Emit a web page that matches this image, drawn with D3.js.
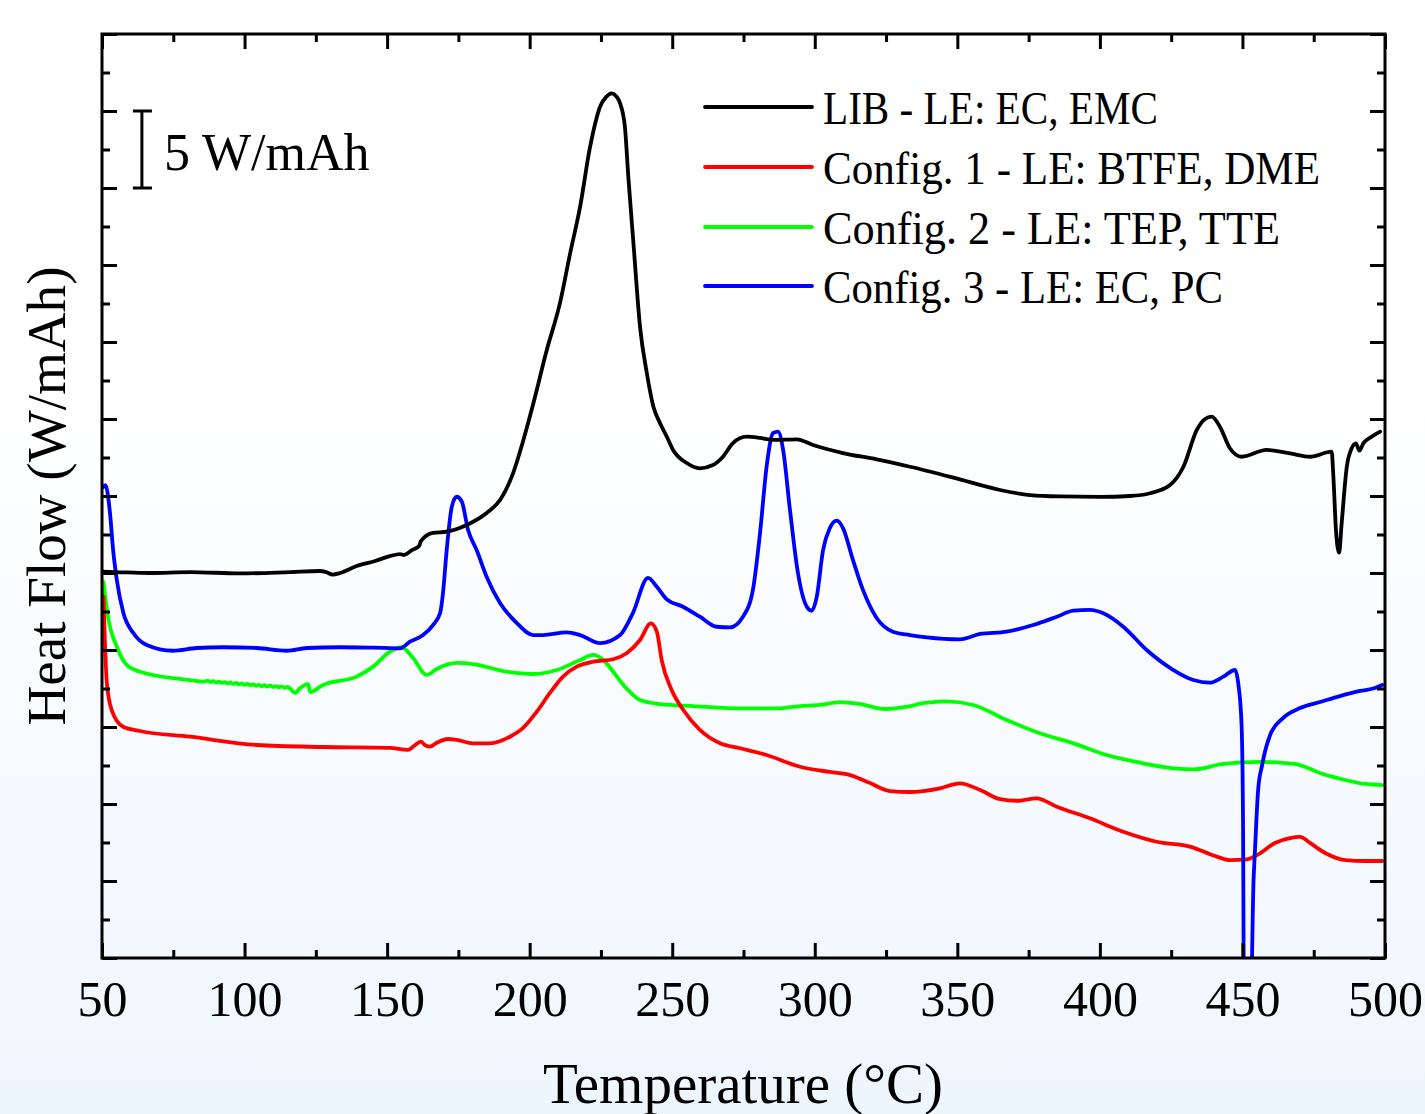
<!DOCTYPE html>
<html>
<head>
<meta charset="utf-8">
<script src="https://cdn.jsdelivr.net/npm/d3@7/dist/d3.min.js"></script>
<style>
  html, body { margin: 0; padding: 0; background: #fff; }
  svg { display: block; }
  text { font-family: "Liberation Serif", "DejaVu Serif", serif; fill: #000; }
</style>
</head>
<body>
<svg id="chart" width="1425" height="1114"></svg>
<script>
// ---------------- DATA ----------------
// Temperature (°C), Heat flow (W/mAh, arbitrary offset per curve)
const seriesNames = [
  "LIB - LE: EC, EMC",
  "Config. 1 - LE: BTFE, DME",
  "Config. 2 - LE: TEP, TTE",
  "Config. 3 - LE: EC, PC"
];

const libEcEmc = [
  [50.4,25.08],[54.6,25.06],[66.8,25.00],[80.9,25.06],[98.4,24.97],[115.9,25.06],
  [126.5,25.13],[128.6,25.06],[130.9,24.90],[133.5,25.00],[139.3,25.45],[145.8,25.78],
  [151.0,26.10],[154.5,26.23],[155.9,26.17],[158.7,26.49],[161.2,26.75],[161.9,27.08],
  [166.1,27.60],[170.9,27.68],[177.9,28.12],[184.9,28.90],[189.6,29.74],[194.2,31.49],
  [197.8,33.64],[201.3,36.02],[206.0,39.48],[210.6,42.51],[214.2,45.76],[217.7,48.79],
  [221.2,52.68],[224.7,55.28],[226.8,55.91],[228.8,56.15],[230.3,55.97],[231.7,55.50],
  [233.4,53.98],[234.6,50.73],[236.4,46.41],[238.7,40.99],[241.1,37.97],[243.4,35.80],
  [245.7,34.74],[248.1,33.85],[250.3,32.99],[255.1,32.14],[259.7,31.80],[264.3,32.01],
  [267.8,32.55],[271.3,33.44],[276.1,33.85],[280.8,33.77],[285.4,33.64],[293.7,33.68],
  [299.4,33.31],[309.9,32.79],[321.7,32.38],[333.4,31.90],[350.9,31.08],[365.0,30.39],
  [375.5,30.06],[386.0,29.97],[400.0,29.94],[410.6,30.00],[417.6,30.18],[424.6,30.71],
  [429.3,31.90],[434.0,34.29],[436.9,35.00],[439.2,35.15],[442.1,34.50],[445.6,33.10],
  [449.7,32.55],[458.5,32.99],[466.7,32.77],[473.7,32.55],[481.3,32.88],[481.9,31.25],
  [482.8,27.79],[483.9,26.32],[484.8,28.23],[486.6,31.90],[488.3,33.10],[489.8,33.42],
  [491.0,32.94],[492.4,33.42],[495.3,33.85],[498.3,34.18]
];

const config1BtfeDme = [
  [50.5,23.46],[51.7,17.86],[53.4,16.10],[57.4,15.02],[63.3,14.74],[80.9,14.37],
  [104.3,13.83],[127.5,13.70],[151.0,13.64],[157.3,13.51],[159.8,13.83],[161.8,14.05],
  [163.3,13.83],[165.0,13.72],[167.4,13.98],[171.4,14.22],[174.4,14.16],[180.1,13.94],
  [186.1,13.94],[193.1,14.37],[197.7,14.94],[202.5,15.99],[207.1,17.21],[211.7,18.27],
  [216.5,18.92],[222.3,19.24],[229.3,19.40],[234.0,19.79],[238.7,20.65],[242.5,21.73],
  [244.6,21.19],[246.3,19.35],[249.8,17.40],[253.9,16.10],[259.7,14.81],[266.8,13.94],
  [273.8,13.62],[283.1,13.18],[294.8,12.42],[305.3,12.08],[312.4,11.88],[319.4,11.36],
  [326.4,10.84],[333.4,10.78],[343.9,11.02],[350.9,11.34],[358.0,10.91],[365.0,10.31],
  [370.8,10.21],[377.8,10.37],[384.9,9.82],[396.5,9.07],[408.2,8.20],[419.9,7.55],
  [431.6,7.23],[441.0,6.58],[445.6,6.36],[451.5,6.41],[456.2,6.80],[461.4,7.47],
  [466.7,7.79],[470.2,7.86],[473.7,7.47],[479.0,6.82],[486.0,6.36],[493.0,6.30],[499.0,6.30]
];

const config2TepTte = [
  [50.5,24.43],[52.1,22.16],[55.2,20.21],[58.7,19.03],[63.3,18.59],[80.9,18.05],
  [86.0,17.95],[87.0,18.01],[88.0,17.92],[89.0,17.98],[90.0,17.89],[91.0,17.95],
  [92.0,17.86],[93.0,17.92],[94.0,17.83],[95.0,17.89],[96.0,17.80],[97.0,17.86],
  [98.0,17.77],[99.0,17.83],[100.0,17.74],[101.0,17.80],[102.0,17.71],[103.0,17.77],
  [104.0,17.68],[105.0,17.74],[106.0,17.65],[107.0,17.71],[108.0,17.63],[109.0,17.69],
  [110.0,17.60],[111.0,17.66],[112.0,17.58],[113.0,17.64],[114.0,17.55],[115.0,17.60],
  [115.9,17.51],[117.7,17.21],[119.5,17.53],[122.3,17.79],
  [123.0,17.27],[127.5,17.73],[139.3,18.27],[145.1,18.92],[151.0,19.89],[155.1,20.18],
  [159.1,19.48],[163.9,18.38],[167.4,18.77],[174.4,19.16],[180.1,19.09],[191.9,18.59],
  [201.2,18.44],[209.5,18.70],[217.7,19.35],[222.3,19.68],[225.8,19.35],[229.3,18.59],
  [233.4,17.62],[238.7,16.75],[245.7,16.49],[257.4,16.36],[274.9,16.21],[286.7,16.21],
  [294.8,16.36],[301.8,16.43],[308.8,16.62],[315.9,16.49],[324.6,16.17],[331.6,16.30],
  [338.7,16.56],[345.7,16.66],[355.6,16.43],[367.3,15.45],[379.0,14.59],[390.7,13.94],
  [402.4,13.18],[414.1,12.68],[425.8,12.32],[432.8,12.25],[443.3,12.60],[456.2,12.73],
  [464.9,12.66],[470.2,12.53],[477.2,12.01],[486.0,11.56],[493.0,11.30],[499.0,11.23]
];

const config3EcPc = [
  [50.5,30.58],[51.2,30.71],[52.8,28.90],[53.9,26.49],[55.2,24.55],[57.5,22.40],
  [61.0,21.10],[65.7,20.32],[74.9,19.95],[83.2,20.13],[92.4,20.18],[104.3,20.13],
  [114.8,19.95],[121.8,20.13],[133.5,20.18],[145.1,20.15],[154.5,20.11],[158.0,20.54],
  [162.6,20.97],[166.1,21.62],[168.6,22.40],[169.6,23.70],[170.9,26.49],[172.7,29.31],
  [174.4,29.95],[176.2,29.63],[178.4,27.79],[181.4,26.49],[184.9,24.76],[189.6,23.05],
  [195.5,21.75],[201.2,20.97],[204.7,20.97],[213.0,21.15],[217.7,20.97],[224.7,20.44],
  [231.7,20.97],[236.2,22.40],[241.5,24.68],[244.6,24.11],[248.1,23.29],[253.8,22.81],
  [259.7,22.16],[265.6,21.51],[270.3,21.47],[274.8,22.16],[278.3,23.90],[280.8,27.60],
  [283.1,31.90],[285.4,34.09],[287.1,34.18],[288.9,32.99],[291.3,29.09],[294.1,25.00],
  [297.2,22.81],[298.9,22.55],[300.7,23.46],[302.9,26.49],[305.3,27.92],[307.7,28.40],
  [309.9,27.92],[313.4,25.84],[316.9,23.90],[321.7,22.08],[327.4,21.19],[333.4,20.97],
  [339.3,20.82],[350.9,20.69],[358.0,21.04],[367.3,21.19],[376.6,21.62],[384.9,22.16],
  [390.7,22.55],[396.5,22.60],[401.2,22.38],[408.2,21.51],[416.4,20.00],[425.8,18.70],
  [432.8,18.05],[438.6,17.88],[443.3,18.27],[447.4,18.70],[448.6,17.73],[449.7,15.13],
  [450.2,8.96],[450.6,-5.00],[452.7,-5.00],[453.9,5.06],[454.4,7.01],[455.5,10.91],
  [456.9,12.53],[459.7,14.48],[464.2,15.58],[470.2,16.23],[477.2,16.62],[484.2,17.01],
  [491.2,17.34],[496.5,17.53],[499.0,17.73]
];

const xMajorTicks = [50, 100, 150, 200, 250, 300, 350, 400, 450, 500];
const xMinorTicks = [75, 125, 175, 225, 275, 325, 375, 425, 475];
const yMajorTicks = [0, 5, 10, 15, 20, 25, 30, 35, 40, 45, 50, 55, 60];
const yMinorTicks = [2.5, 7.5, 12.5, 17.5, 22.5, 27.5, 32.5, 37.5, 42.5, 47.5, 52.5, 57.5];
const scaleBarValue = [50, 55];     // 5 W/mAh scale bar (y range)
const scaleBarTemp = 64;            // where the scale bar sits (°C)
const xTitle = "Temperature (°C)";
const yTitle = "Heat Flow (W/mAh)";
const scaleLabel = "5 W/mAh";

// ---------------- STYLE / LAYOUT ----------------
const colors = ["#000000", "#ff0000", "#00ff00", "#0000ff"];
const allSeries = [libEcEmc, config1BtfeDme, config2TepTte, config3EcPc];
const W = 1425, H = 1114;
const m = { left: 102, right: 1385, top: 34, bottom: 958 };

const svg = d3.select("#chart");

// background gradient
const defs = svg.append("defs");
const grad = defs.append("linearGradient").attr("id", "bg")
  .attr("x1", 0).attr("y1", 0).attr("x2", 0).attr("y2", 1);
grad.append("stop").attr("offset", "0%").attr("stop-color", "#ffffff");
grad.append("stop").attr("offset", "35%").attr("stop-color", "#ffffff");
grad.append("stop").attr("offset", "100%").attr("stop-color", "#eef6fd");
svg.append("rect").attr("width", W).attr("height", H).attr("fill", "url(#bg)");

defs.append("clipPath").attr("id", "plotclip").append("rect")
  .attr("x", m.left).attr("y", m.top)
  .attr("width", m.right - m.left).attr("height", m.bottom - m.top);

const x = d3.scaleLinear().domain([50, 500]).range([m.left, m.right]);
const y = d3.scaleLinear().domain([0, 60]).range([m.bottom, m.top]);

// curves
const line = d3.line().x(d => x(d[0])).y(d => y(d[1])).curve(d3.curveMonotoneX);
const curves = svg.append("g").attr("clip-path", "url(#plotclip)");
// draw order: green, red, blue, black (black above)
[2, 1, 3, 0].forEach(i => {
  curves.append("path").datum(allSeries[i])
    .attr("d", line).attr("fill", "none")
    .attr("stroke", colors[i]).attr("stroke-width", 3.8)
    .attr("stroke-linejoin", "round").attr("stroke-linecap", "round");
});

// axes (ticks inward)
function styleAxis(g) {
  g.select(".domain").remove();
  g.selectAll(".tick line").attr("stroke", "#000").attr("stroke-width", 3);
}
const fmt = d3.format("d");
svg.append("g").attr("transform", `translate(0,${m.bottom})`)
  .call(d3.axisBottom(x).tickValues(xMajorTicks).tickSizeInner(-15).tickSizeOuter(0)
    .tickPadding(22).tickFormat(fmt))
  .call(styleAxis)
  .call(g => g.selectAll("text").attr("font-size", 50)
    .style("font-family", '"Liberation Serif", serif').attr("fill", "#000"));
svg.append("g").attr("transform", `translate(0,${m.bottom})`)
  .call(d3.axisBottom(x).tickValues(xMinorTicks).tickSizeInner(-8).tickSizeOuter(0).tickFormat(""))
  .call(styleAxis);
svg.append("g").attr("transform", `translate(0,${m.top})`)
  .call(d3.axisTop(x).tickValues(xMajorTicks).tickSizeInner(-15).tickSizeOuter(0).tickFormat(""))
  .call(styleAxis);
svg.append("g").attr("transform", `translate(0,${m.top})`)
  .call(d3.axisTop(x).tickValues(xMinorTicks).tickSizeInner(-8).tickSizeOuter(0).tickFormat(""))
  .call(styleAxis);
svg.append("g").attr("transform", `translate(${m.left},0)`)
  .call(d3.axisLeft(y).tickValues(yMajorTicks).tickSizeInner(-15).tickSizeOuter(0).tickFormat(""))
  .call(styleAxis);
svg.append("g").attr("transform", `translate(${m.left},0)`)
  .call(d3.axisLeft(y).tickValues(yMinorTicks).tickSizeInner(-8).tickSizeOuter(0).tickFormat(""))
  .call(styleAxis);
svg.append("g").attr("transform", `translate(${m.right},0)`)
  .call(d3.axisRight(y).tickValues(yMajorTicks).tickSizeInner(-15).tickSizeOuter(0).tickFormat(""))
  .call(styleAxis);
svg.append("g").attr("transform", `translate(${m.right},0)`)
  .call(d3.axisRight(y).tickValues(yMinorTicks).tickSizeInner(-8).tickSizeOuter(0).tickFormat(""))
  .call(styleAxis);

// frame
svg.append("rect").attr("x", m.left).attr("y", m.top)
  .attr("width", m.right - m.left).attr("height", m.bottom - m.top)
  .attr("fill", "none").attr("stroke", "#000").attr("stroke-width", 3);

// axis titles
svg.append("text").attr("x", 743).attr("y", 1103)
  .attr("text-anchor", "middle").attr("font-size", 56)
  .attr("textLength", 400).attr("lengthAdjust", "spacingAndGlyphs").text(xTitle);
svg.append("text").attr("transform", `translate(65,${(m.top + m.bottom) / 2}) rotate(-90)`)
  .attr("text-anchor", "middle").attr("font-size", 55)
  .attr("textLength", 459).attr("lengthAdjust", "spacingAndGlyphs").text(yTitle);

// scale bar
const sb = svg.append("g").attr("stroke", "#000").attr("stroke-width", 3);
const sx = x(scaleBarTemp);
sb.append("line").attr("x1", sx).attr("x2", sx).attr("y1", y(scaleBarValue[0])).attr("y2", y(scaleBarValue[1]));
sb.append("line").attr("x1", sx - 9).attr("x2", sx + 10).attr("y1", y(scaleBarValue[0])).attr("y2", y(scaleBarValue[0]));
sb.append("line").attr("x1", sx - 9).attr("x2", sx + 10).attr("y1", y(scaleBarValue[1])).attr("y2", y(scaleBarValue[1]));
svg.append("text").attr("x", sx + 22).attr("y", 170).attr("font-size", 52).text(scaleLabel);

// legend
const legendRowY = [107, 167, 227, 286];
const legendWidths = [335, 497, 457, 400];
const leg = svg.append("g");
seriesNames.forEach((name, i) => {
  leg.append("line").attr("x1", 705).attr("x2", 812)
    .attr("y1", legendRowY[i]).attr("y2", legendRowY[i])
    .attr("stroke", colors[i]).attr("stroke-width", 3.8).attr("stroke-linecap", "round");
  leg.append("text").attr("x", 823).attr("y", legendRowY[i] + 17)
    .attr("font-size", 46)
    .attr("textLength", legendWidths[i]).attr("lengthAdjust", "spacingAndGlyphs")
    .text(name);
});
</script>
</body>
</html>
